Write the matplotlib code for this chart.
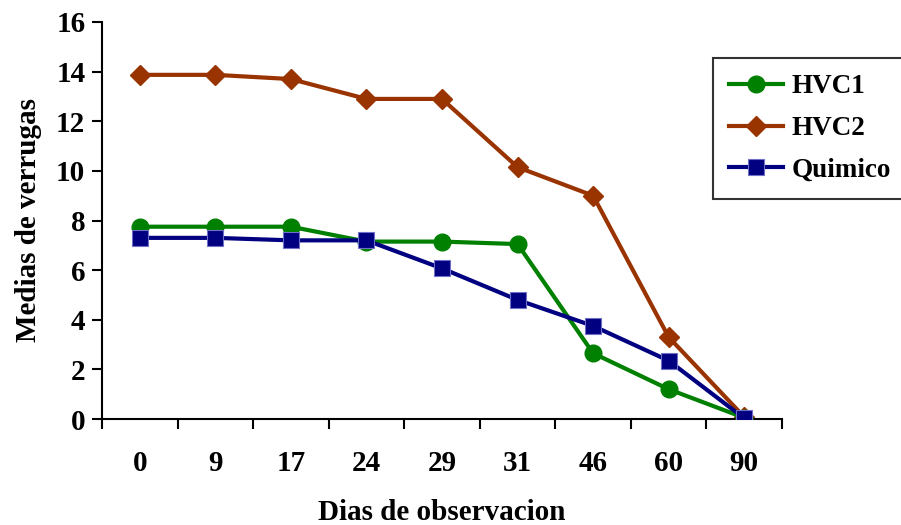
import numpy as np
import matplotlib.pyplot as plt

plt.rcParams['font.family'] = ['Liberation Serif', 'DejaVu Serif']
plt.rcParams['font.weight'] = 'bold'

dias = ["0", "9", "17", "24", "29", "31", "46", "60", "90"]
hvc1 = [7.75, 7.75, 7.75, 7.15, 7.15, 7.05, 2.65, 1.2, 0.05]
hvc2 = [13.87, 13.87, 13.7, 12.9, 12.9, 10.15, 9.0, 3.3, 0.08]
quimico = [7.3, 7.3, 7.2, 7.2, 6.07, 4.8, 3.75, 2.35, 0.03]

fig = plt.figure(figsize=(9.01, 5.25), dpi=100)
ax = fig.add_axes([102 / 901, 1 - 419 / 525, 680 / 901, 397 / 525])

x = np.arange(len(dias))
ax.plot(x, hvc1, color='#008000', lw=3, marker='o', ms=12, label='HVC1', zorder=3)
ax.plot(x, hvc2, color='#993300', lw=3, marker='D', ms=10, label='HVC2', zorder=2)
ax.plot(x, quimico, color='#000080', lw=3, marker='s', ms=11,
        markeredgecolor='#7070c8', markeredgewidth=0.8, label='Quimico', zorder=4)

ax.set_xlim(-0.5, len(dias) - 0.5)
ax.set_ylim(0, 16)
ax.set_yticks(range(0, 17, 2))
ax.set_xticks(x)
ax.set_xticklabels(dias)
ax.set_xticks(np.arange(-0.5, len(dias)), minor=True)
ax.tick_params(axis='x', which='major', length=0, pad=22, labelsize=21)
ax.tick_params(axis='x', which='minor', length=7, width=1.5, direction='out')
ax.tick_params(axis='y', length=7, width=1.5, labelsize=21, pad=5)

for s in ['top', 'right']:
    ax.spines[s].set_visible(False)
for s in ['left', 'bottom']:
    ax.spines[s].set_linewidth(1.5)

ax.set_ylabel('Medias de verrugas', fontsize=21, fontweight='bold', labelpad=10)
ax.set_xlabel('Dias de observacion', fontsize=21, fontweight='bold', labelpad=16)

leg = fig.legend(loc='upper left', bbox_to_anchor=(713 / 901, 1 - 58 / 525),
                 fontsize=19.5, frameon=True, fancybox=False, handlelength=2.0,
                 borderpad=0.6, labelspacing=0.62, handletextpad=0.3,
                 borderaxespad=0)
leg.get_frame().set_edgecolor('black')
leg.get_frame().set_linewidth(1.5)
for t in leg.get_texts():
    t.set_fontweight('bold')

fig.savefig('out.png', dpi=100)
